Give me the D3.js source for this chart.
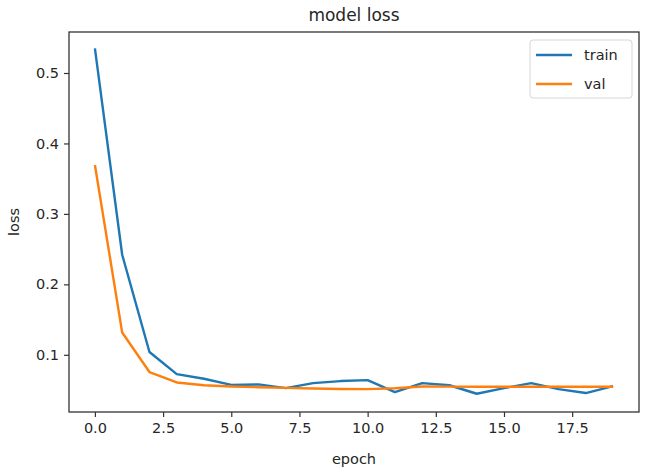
<!DOCTYPE html>
<html lang="en">
<head>
    <meta charset="UTF-8">
    <title>model loss</title>
    <script src="https://d3js.org/d3.v7.min.js"></script>
    <style>
        body { margin: 0; background: #fff; }
        text { font-family: "DejaVu Sans", sans-serif; fill: #262626; }
    </style>
</head>
<body>
    <script>
        // loss per epoch
        const epochs = d3.range(0, 20);
        const trainLoss = [0.535, 0.242, 0.104, 0.0725, 0.066, 0.0572, 0.058, 0.0527, 0.0598, 0.0627,
                           0.064, 0.047, 0.0598, 0.0568, 0.0447, 0.0527, 0.0598, 0.0513, 0.0457, 0.0556];
        const valLoss = [0.3695, 0.1316, 0.0755, 0.0607, 0.0567, 0.055, 0.054, 0.053, 0.0522, 0.0515,
                         0.0513, 0.0525, 0.055, 0.0548, 0.0546, 0.0546, 0.0546, 0.0546, 0.0546, 0.0546];
        const xTicks = [0, 2.5, 5, 7.5, 10, 12.5, 15, 17.5];
        const yTicks = [0.1, 0.2, 0.3, 0.4, 0.5];
        const seriesNames = ["train", "val"];
        const colors = ["#1f77b4", "#ff7f0e"];

        const width = 645, height = 473;
        const margin = { left: 69, right: 6, top: 32, bottom: 61 };

        const svg = d3.select("body").append("svg")
            .attr("width", width)
            .attr("height", height);

        const x = d3.scaleLinear()
            .domain([-0.95, 19.95])
            .range([margin.left, width - margin.right]);

        const y = d3.scaleLinear()
            .domain([0.0188, 0.5582])
            .range([height - margin.bottom, margin.top]);

        // axes
        const xAxis = svg.append("g")
            .attr("transform", `translate(0,${height - margin.bottom})`)
            .call(d3.axisBottom(x).tickValues(xTicks).tickFormat(d3.format(".1f")).tickSizeOuter(0).tickSize(5).tickPadding(6));

        const yAxis = svg.append("g")
            .attr("transform", `translate(${margin.left},0)`)
            .call(d3.axisLeft(y).tickValues(yTicks).tickFormat(d3.format(".1f")).tickSizeOuter(0).tickSize(5).tickPadding(5));

        [xAxis, yAxis].forEach(g => {
            g.select(".domain").remove();
            g.selectAll(".tick line").attr("stroke", "#333").attr("stroke-width", 1.2);
            g.selectAll(".tick text")
                .style("font-family", "DejaVu Sans, sans-serif")
                .style("font-size", "14.5px")
                .attr("fill", "#262626");
        });

        // frame
        svg.append("rect")
            .attr("x", margin.left)
            .attr("y", margin.top)
            .attr("width", width - margin.left - margin.right)
            .attr("height", height - margin.top - margin.bottom)
            .attr("fill", "none")
            .attr("stroke", "#333")
            .attr("stroke-width", 1.3);

        // lines
        const line = d3.line()
            .x((d, i) => x(epochs[i]))
            .y(d => y(d));

        [trainLoss, valLoss].forEach((vals, k) => {
            svg.append("path")
                .datum(vals)
                .attr("fill", "none")
                .attr("stroke", colors[k])
                .attr("stroke-width", 2.4)
                .attr("stroke-linejoin", "round")
                .attr("d", line);
        });

        // title and axis labels
        svg.append("text")
            .attr("x", (margin.left + width - margin.right) / 2)
            .attr("y", 21)
            .attr("text-anchor", "middle")
            .style("font-size", "17px")
            .text("model loss");

        svg.append("text")
            .attr("x", (margin.left + width - margin.right) / 2)
            .attr("y", 464)
            .attr("text-anchor", "middle")
            .style("font-size", "14.5px")
            .text("epoch");

        svg.append("text")
            .attr("transform", `translate(19,${(margin.top + height - margin.bottom) / 2}) rotate(-90)`)
            .attr("text-anchor", "middle")
            .style("font-size", "14.5px")
            .text("loss");

        // legend
        const legend = svg.append("g");
        legend.append("rect")
            .attr("x", 530).attr("y", 40)
            .attr("width", 102).attr("height", 58)
            .attr("rx", 3)
            .attr("fill", "#fff")
            .attr("stroke", "#d6d6d6");

        seriesNames.forEach((name, k) => {
            const ly = 55 + k * 29;
            legend.append("line")
                .attr("x1", 536).attr("x2", 572)
                .attr("y1", ly).attr("y2", ly)
                .attr("stroke", colors[k])
                .attr("stroke-width", 2.4);
            legend.append("text")
                .attr("x", 584).attr("y", ly + 5)
                .style("font-size", "14.5px")
                .text(name);
        });
    </script>
</body>
</html>
